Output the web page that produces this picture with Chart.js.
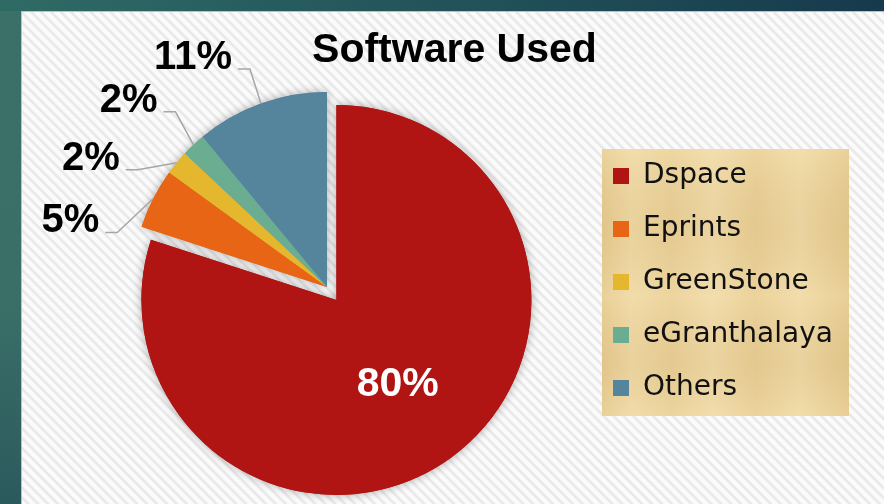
<!DOCTYPE html>
<html><head><meta charset="utf-8">
<script src="https://cdn.jsdelivr.net/npm/chart.js@4/dist/chart.umd.min.js"></script>
<style>
html,body{margin:0;padding:0;}
body{width:884px;height:504px;overflow:hidden;position:relative;background:linear-gradient(to bottom,#3a7068 0%,#3a6f68 60%,#2b5a5c 100%);}
#topbar{position:absolute;left:0;top:0;width:884px;height:11px;background:linear-gradient(to right,#2f6b65,#215159 55%,#163a4c);}
#panel{position:absolute;left:21px;top:11px;right:0;bottom:0;border-left:1px solid #b5c3c1;border-top:1px solid #b5c3c1;
  background:repeating-linear-gradient(45deg,#fbfbfb 0px,#fbfbfb 2.5px,#e9e9e9 3.8px,#e9e9e9 5.2px,#fbfbfb 6.5px,#fbfbfb 7px);}
canvas{position:absolute;left:0;top:0;}
</style></head>
<body><div id="topbar"></div><div id="panel"></div>
<canvas id="c" width="884" height="504"></canvas>
<script>
// ---- data ----
const categories = ['Dspace', 'Eprints', 'GreenStone', 'eGranthalaya', 'Others'];
const shares = [80, 5, 2, 2, 11];
const sliceColors = ['#b01513', '#e96516', '#e5b72e', '#6aad91', '#55849d'];
const chartTitle = 'Software Used';

// ---- style / layout ----
const W_CANVAS = 884, H_CANVAS = 504;
const pieCX = 327, pieCY = 287, pieRadius = 195;
const explodeDistance = 16;
const legendFontSize = 28, legendFamily = "'DejaVu Sans', sans-serif";
const legendBox = 16, legendPad = 25, legendItemX = 613, legendFirstTop = 162;
const titleSize = 41, titlePadTop = 26;
const boldFamily = "'Liberation Sans', Arial, sans-serif";
// elbow offsets of the leader lines (relative to the slice's outer mid point)
const leaderElbows = [null, [-36, 34], [-39, 7], [-18, -33], [-11, -34.5]];

const mc = document.createElement('canvas').getContext('2d');
mc.font = legendFontSize + 'px ' + legendFamily;
const maxLabelW = Math.max(...categories.map(t => mc.measureText(t).width));
const legendWidth = legendPad + legendBox + legendFontSize / 2 + maxLabelW + 10;
const legendLeft = legendItemX - legendPad;
const padR = W_CANVAS - legendLeft - legendWidth;
const padL = 2 * pieCX - legendLeft;
const titleBoxH = titleSize * 1.2 + titlePadTop;
const padB = H_CANVAS - (2 * pieCY - titleBoxH);
const legendTitleLH = 12;
const legendTitlePadTop = legendFirstTop - titleBoxH - legendPad - legendTitleLH;

const explodePlugin = {
  id: 'explode',
  afterDatasetUpdate(chart, args) {
    const arc = args.meta.data[0];
    const mid = (arc.startAngle + arc.endAngle) / 2;
    arc.x += Math.cos(mid) * explodeDistance;
    arc.y += Math.sin(mid) * explodeDistance;
  }
};

const parchmentPlugin = {
  id: 'parchment',
  beforeDraw(chart) {
    const lg = chart.legend, ctx = chart.ctx;
    const x0 = lg.left + legendPad - 11;
    const y0 = lg.top + legendTitleLH + legendTitlePadTop + legendPad - 13;
    const w = 247, h = 267;
    ctx.save();
    const g = ctx.createLinearGradient(x0, 0, x0 + w, 0);
    g.addColorStop(0, '#e4c98e'); g.addColorStop(0.12, '#eed7a3'); g.addColorStop(0.28, '#e8ce95');
    g.addColorStop(0.45, '#efd9a7'); g.addColorStop(0.62, '#e7cc92'); g.addColorStop(0.8, '#eed8a4');
    g.addColorStop(1, '#e3c78b');
    ctx.fillStyle = g;
    ctx.fillRect(x0, y0, w, h);
    const g2 = ctx.createLinearGradient(0, y0, 0, y0 + h);
    g2.addColorStop(0, 'rgba(255,240,200,0.25)'); g2.addColorStop(0.3, 'rgba(200,170,110,0.10)');
    g2.addColorStop(0.55, 'rgba(255,240,200,0.2)'); g2.addColorStop(0.8, 'rgba(200,170,110,0.12)');
    g2.addColorStop(1, 'rgba(255,240,200,0.2)');
    ctx.fillStyle = g2;
    ctx.fillRect(x0, y0, w, h);
    ctx.restore();
  }
};

const shadowPlugin = {
  id: 'sliceShadow',
  beforeDatasetsDraw(chart) {
    const ctx = chart.ctx;
    chart.getDatasetMeta(0).data.forEach(arc => {
      ctx.save();
      ctx.shadowColor = 'rgba(0,0,0,0.32)';
      ctx.shadowBlur = 10;
      arc.draw(ctx);
      ctx.restore();
    });
  }
};

const labelPlugin = {
  id: 'pctLabels',
  afterDatasetsDraw(chart) {
    const ctx = chart.ctx;
    const meta = chart.getDatasetMeta(0);
    const total = shares.reduce((a, b) => a + b, 0);
    meta.data.forEach((arc, i) => {
      const pct = Math.round(shares[i] / total * 100) + '%';
      const mid = (arc.startAngle + arc.endAngle) / 2;
      const c = Math.cos(mid), s = Math.sin(mid);
      ctx.save();
      if (i === 0) {
        const d = arc.outerRadius * 0.535;
        ctx.fillStyle = '#ffffff';
        ctx.font = 'bold 41px ' + boldFamily;
        ctx.textAlign = 'center';
        ctx.textBaseline = 'middle';
        ctx.fillText(pct, arc.x + c * d, arc.y + s * d);
      } else {
        const px = arc.x + c * arc.outerRadius, py = arc.y + s * arc.outerRadius;
        const bx = px + leaderElbows[i][0], by = py + leaderElbows[i][1];
        ctx.strokeStyle = '#a6a6a6';
        ctx.lineWidth = 1.5;
        ctx.beginPath();
        ctx.moveTo(px, py); ctx.lineTo(bx, by); ctx.lineTo(bx - 12, by);
        ctx.stroke();
        ctx.fillStyle = '#000000';
        ctx.font = 'bold 40px ' + boldFamily;
        ctx.textAlign = 'right';
        ctx.textBaseline = 'alphabetic';
        ctx.fillText(pct, bx - 18, by);
      }
      ctx.restore();
    });
  }
};

new Chart(document.getElementById('c'), {
  type: 'pie',
  data: {
    labels: categories,
    datasets: [{ data: shares, backgroundColor: sliceColors, borderWidth: 0, clip: false }]
  },
  options: {
    responsive: false,
    animation: false,
    events: [],
    radius: pieRadius,
    layout: { padding: { left: padL, right: padR, top: 0, bottom: padB } },
    plugins: {
      tooltip: { enabled: false },
      title: {
        display: true, text: chartTitle, color: '#000000',
        font: { family: boldFamily, size: titleSize, weight: 'bold', lineHeight: 1.2 },
        padding: { top: titlePadTop, bottom: 0 }
      },
      legend: {
        display: true, position: 'right', align: 'start', fullSize: false,
        title: { display: true, text: '', font: { size: 10, lineHeight: 1.2 }, padding: { top: legendTitlePadTop, bottom: 0 } },
        labels: {
          color: '#111111',
          font: { family: legendFamily, size: legendFontSize },
          boxWidth: legendBox, boxHeight: legendBox, padding: legendPad
        }
      }
    }
  },
  plugins: [explodePlugin, parchmentPlugin, shadowPlugin, labelPlugin]
});
</script>
</body></html>
